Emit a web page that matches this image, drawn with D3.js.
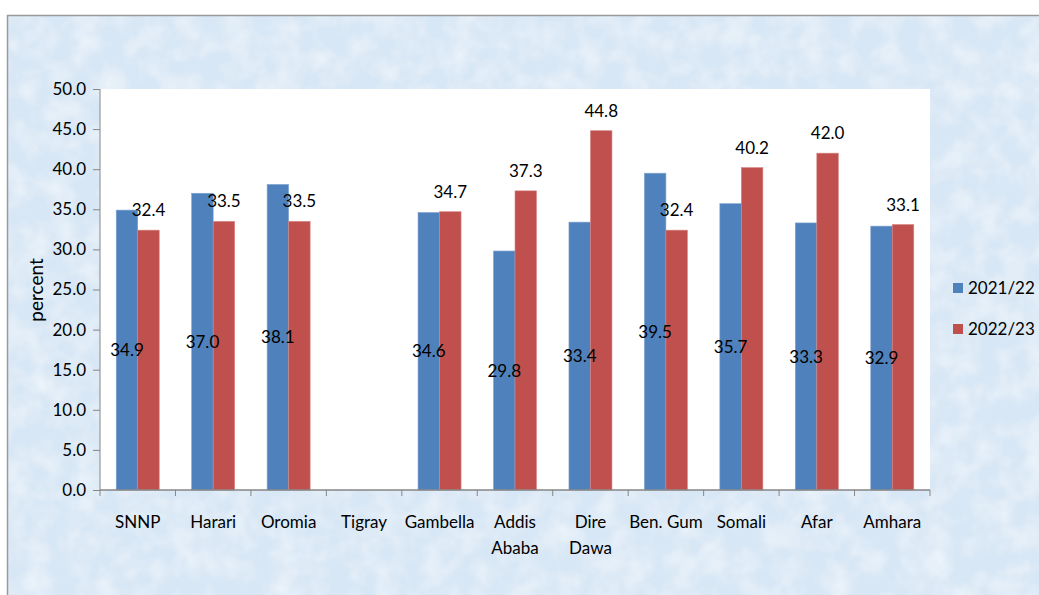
<!DOCTYPE html>
<html>
<head>
<meta charset="utf-8">
<script src="https://cdn.jsdelivr.net/npm/d3@7"></script>
<style>
  html, body { margin: 0; padding: 0; background: #ffffff; }
  svg { display: block; font-family: Lato, "Open Sans", sans-serif; }
</style>
</head>
<body>
<svg id="chart"></svg>
<script>
// data
var regions = [["SNNP"], ["Harari"], ["Oromia"], ["Tigray"], ["Gambella"], ["Addis", "Ababa"],
               ["Dire", "Dawa"], ["Ben. Gum"], ["Somali"], ["Afar"], ["Amhara"]];
var seriesNames = ["2021/22", "2022/23"];
var values2021 = [34.9, 37.0, 38.1, null, 34.6, 29.8, 33.4, 39.5, 35.7, 33.3, 32.9];
var values2022 = [32.4, 33.5, 33.5, null, 34.7, 37.3, 44.8, 32.4, 40.2, 42.0, 33.1];
var yTicks = [0, 5, 10, 15, 20, 25, 30, 35, 40, 45, 50];
var colors = ["#4f81bd", "#c0504d"];

var width = 1039, height = 595;
var plot = {left: 100, right: 930, top: 89, bottom: 490};

var svg = d3.select("#chart")
    .attr("width", width)
    .attr("height", height);

// textured light-blue background
var defs = svg.append("defs");
var filt = defs.append("filter").attr("id", "tex")
    .attr("x", 0).attr("y", 0).attr("width", "100%").attr("height", "100%");
filt.append("feTurbulence").attr("type", "fractalNoise")
    .attr("baseFrequency", "0.04").attr("numOctaves", 3).attr("seed", 4).attr("result", "n");
filt.append("feColorMatrix").attr("in", "n").attr("type", "matrix")
    .attr("values", "0 0 0 0 1  0 0 0 0 1  0 0 0 0 1  0.9 0 0 0 -0.33")
    .attr("result", "m");
filt.append("feComposite").attr("in", "m").attr("in2", "SourceGraphic").attr("operator", "in");

svg.append("rect")
    .attr("x", 7).attr("y", 15)
    .attr("width", width).attr("height", height)
    .style("fill", "#d8e7f5");
svg.append("rect")
    .attr("x", 7).attr("y", 15)
    .attr("width", width).attr("height", height)
    .style("fill", "#d8e7f5")
    .attr("filter", "url(#tex)");
svg.append("rect")
    .attr("x", 7.5).attr("y", 15.5)
    .attr("width", width).attr("height", height)
    .style("fill", "none")
    .style("stroke", "#9a9a9a")
    .style("stroke-width", 1.5);

// plot area
svg.append("rect")
    .attr("x", plot.left).attr("y", plot.top)
    .attr("width", plot.right - plot.left).attr("height", plot.bottom - plot.top)
    .style("fill", "#ffffff");

var x0 = d3.scaleBand()
    .domain(d3.range(regions.length))
    .range([plot.left, plot.right])
    .paddingInner(0.43).paddingOuter(0.215);

var x1 = d3.scaleBand()
    .domain(d3.range(seriesNames.length))
    .range([0, x0.bandwidth()]);

var y = d3.scaleLinear()
    .domain([0, 50])
    .range([plot.bottom, plot.top]);

var rows = regions.map(function(r, i) {
    return [values2021[i], values2022[i]];
});

var groups = svg.append("g").selectAll("g")
    .data(rows)
    .enter().append("g")
    .attr("transform", function(d, i) { return "translate(" + x0(i) + ",0)"; });

groups.selectAll("rect")
    .data(function(d) { return d.map(function(v, k) { return {v: v, k: k}; }).filter(function(e) { return e.v != null; }); })
    .enter().append("rect")
    .attr("x", function(d) { return x1(d.k); })
    .attr("width", x1.bandwidth())
    .attr("y", function(d) { return y(d.v); })
    .attr("height", function(d) { return y(0) - y(d.v); })
    .style("fill", function(d) { return colors[d.k]; })
    .style("stroke", function(d) { return d.k == 0 ? "#7fa3d0" : "#d88583"; })
    .style("stroke-width", 0.6);

// data labels: 2021/22 centered in bar, 2022/23 above bar end
groups.selectAll("text")
    .data(function(d) { return d.map(function(v, k) { return {v: v, k: k}; }).filter(function(e) { return e.v != null; }); })
    .enter().append("text")
    .attr("x", function(d) { return x1(d.k) + x1.bandwidth() / 2; })
    .attr("y", function(d) { return d.k == 0 ? y(d.v / 2) : y(d.v) - 20; })
    .attr("dy", "0.36em")
    .attr("text-anchor", "middle")
    .style("font-size", "17px")
    .style("fill", "#000")
    .text(function(d) { return d3.format(".1f")(d.v); });

// y axis
var yAxis = svg.append("g")
    .attr("transform", "translate(" + plot.left + ",0)")
    .call(d3.axisLeft(y).tickValues(yTicks).tickFormat(d3.format(".1f")).tickSize(7).tickPadding(7));
yAxis.selectAll("line").style("stroke", "#868686");
yAxis.select(".domain").style("stroke", "#868686").attr("d", "M0," + plot.bottom + "V" + plot.top);
yAxis.selectAll("text").style("font-size", "17px").style("font-family", "Lato, sans-serif").style("fill", "#000");

// x axis
var xLine = svg.append("g");
xLine.append("line")
    .attr("x1", plot.left).attr("x2", plot.right)
    .attr("y1", plot.bottom).attr("y2", plot.bottom)
    .style("stroke", "#868686").style("stroke-width", 1.5);
xLine.selectAll("line.tick")
    .data(d3.range(regions.length + 1))
    .enter().append("line")
    .attr("class", "tick")
    .attr("x1", function(i) { return plot.left + i * (plot.right - plot.left) / regions.length; })
    .attr("x2", function(i) { return plot.left + i * (plot.right - plot.left) / regions.length; })
    .attr("y1", plot.bottom).attr("y2", plot.bottom + 6)
    .style("stroke", "#868686");

var xLabels = svg.append("g").selectAll("text")
    .data(regions)
    .enter().append("text")
    .attr("x", function(d, i) { return x0(i) + x0.bandwidth() / 2; })
    .attr("y", 528)
    .attr("text-anchor", "middle")
    .style("font-size", "17px")
    .style("fill", "#000");
xLabels.selectAll("tspan")
    .data(function(d) { return d; })
    .enter().append("tspan")
    .attr("x", function() { return this.parentNode.getAttribute("x"); })
    .attr("dy", function(d, j) { return j == 0 ? 0 : 26; })
    .text(function(d) { return d; });

// y axis title
svg.append("text")
    .attr("transform", "translate(43,290) rotate(-90)")
    .attr("text-anchor", "middle")
    .style("font-size", "19px")
    .style("fill", "#000")
    .text("percent");

// legend
var legend = svg.append("g").selectAll("g")
    .data(seriesNames)
    .enter().append("g")
    .attr("transform", function(d, i) { return "translate(953," + (283 + i * 41) + ")"; });
legend.append("rect")
    .attr("width", 10).attr("height", 10)
    .style("fill", function(d, i) { return colors[i]; });
legend.append("text")
    .attr("x", 15).attr("y", 5).attr("dy", "0.36em")
    .style("font-size", "17px")
    .style("fill", "#000")
    .text(function(d) { return d; });
</script>
</body>
</html>
